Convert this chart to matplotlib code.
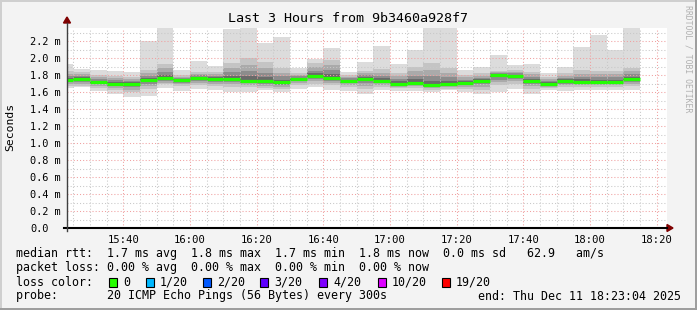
import numpy as np
import matplotlib
matplotlib.use('Agg')
import matplotlib.pyplot as plt
from matplotlib.patches import Rectangle, Polygon
from matplotlib.lines import Line2D
from matplotlib.transforms import Affine2D

W, H = 697, 310

# 5 minute bins, minutes after 15:00 (first bin is cut by the window start)
bin_start = np.arange(20, 195, 5)

# round trip times in ms
med = [1.745, 1.756, 1.718, 1.700, 1.700, 1.741, 1.765, 1.740, 1.765, 1.757,
       1.757, 1.733, 1.733, 1.714, 1.757, 1.790, 1.765, 1.733, 1.757, 1.733,
       1.700, 1.710, 1.680, 1.700, 1.706, 1.733, 1.796, 1.790, 1.730, 1.700,
       1.730, 1.720, 1.720, 1.720, 1.757]
smoke_max = [1.93, 1.874, 1.86, 1.85, 1.835, 2.196, 2.36, 1.86, 1.965, 1.91,
             2.345, 2.36, 2.176, 2.247, 1.88, 1.99, 2.117, 1.835, 1.953, 2.14,
             1.925, 2.09, 2.36, 2.36, 1.86, 1.894, 2.04, 1.92, 1.93, 1.823,
             1.894, 2.133, 2.275, 2.094, 2.36]
smoke_up = [1.85, 1.84, 1.80, 1.79, 1.78, 1.86, 1.93, 1.80, 1.84, 1.84,
            1.94, 2.00, 1.95, 1.88, 1.82, 1.94, 1.98, 1.80, 1.85, 1.87,
            1.83, 1.90, 1.94, 1.88, 1.80, 1.82, 1.85, 1.86, 1.84, 1.78,
            1.82, 1.86, 1.85, 1.85, 1.88]
smoke_lo = [1.67, 1.67, 1.65, 1.62, 1.60, 1.64, 1.69, 1.67, 1.68, 1.67,
            1.66, 1.66, 1.65, 1.64, 1.68, 1.70, 1.68, 1.66, 1.64, 1.66,
            1.65, 1.65, 1.63, 1.64, 1.64, 1.63, 1.68, 1.70, 1.64, 1.65,
            1.66, 1.66, 1.66, 1.66, 1.67]
smoke_min = [1.65, 1.66, 1.61, 1.58, 1.54, 1.55, 1.65, 1.61, 1.64, 1.62,
             1.60, 1.60, 1.62, 1.60, 1.64, 1.656, 1.63, 1.61, 1.58, 1.63,
             1.61, 1.61, 1.60, 1.62, 1.60, 1.58, 1.60, 1.64, 1.58, 1.62,
             1.61, 1.62, 1.62, 1.62, 1.62]

x_ticks = [40, 60, 80, 100, 120, 140, 160, 180, 200]
x_labels = ['15:40', '16:00', '16:20', '16:40', '17:00', '17:20', '17:40', '18:00', '18:20']
y_ticks = [0.0, 0.2, 0.4, 0.6, 0.8, 1.0, 1.2, 1.4, 1.6, 1.8, 2.0, 2.2]
y_labels = ['0.0'] + [f'{v:.1f} m' for v in y_ticks[1:]]

loss_labels = ['0', '1/20', '2/20', '3/20', '4/20', '10/20', '19/20']
loss_colors = ['#26ff00', '#00b8ff', '#0059ff', '#5e00ff', '#7e00ff', '#dd00ff', '#ff0000']

MONO = 'DejaVu Sans Mono'
plt.rcParams['font.family'] = MONO

fig = plt.figure(figsize=(W / 100, H / 100), dpi=100)
fig.patch.set_facecolor('#f3f3f3')
pix = Affine2D().scale(1 / W, -1 / H).translate(0, 1) + fig.transFigure

# plot area: x 67..667, y 27.5..228 px
ax = fig.add_axes([67 / W, (H - 228) / H, 600 / W, 200.5 / H])
ax.set_facecolor('white')
t0 = 23 + 4 / 60
ax.set_xlim(t0, t0 + 180)
ax.set_ylim(0, 2.36)

med = np.array(med)
smax, sup = np.array(smoke_max), np.array(smoke_up)
slo, smin = np.array(smoke_lo), np.array(smoke_min)

# smoke, lightest outside, darker towards the median
ax.bar(bin_start, smax - smin, bottom=smin, width=5, align='edge', color='#dcdcdc', lw=0, zorder=1)
ax.bar(bin_start, sup - slo, bottom=slo, width=5, align='edge', color='#c4c4c4', lw=0, zorder=1)
for f, c in [(0.3, '#aaaaaa'), (0.58, '#8c8c8c'), (0.8, '#6a6a6a')]:
    top = sup - f * (sup - med)
    bot = slo + f * (med - slo)
    ax.bar(bin_start, top - bot, bottom=bot, width=5, align='edge', color=c, lw=0, zorder=1)
ax.hlines(med, bin_start, bin_start + 5, color='#22ff00', lw=2.3, zorder=4)

# grid
ax.set_xticks(x_ticks)
ax.set_xticklabels(x_labels)
ax.set_xticks(np.arange(25, 205, 5), minor=True)
ax.set_yticks(y_ticks)
ax.set_yticklabels(y_labels)
ax.set_yticks(np.arange(0.1, 2.4, 0.2), minor=True)
ax.set_axisbelow(False)
ax.grid(which='minor', color='#c8c8c8', lw=0.75, ls=(0, (1, 2)))
ax.grid(which='major', color='#f0a0a0', lw=0.75, ls=(0, (1, 2)))
ax.tick_params(which='both', length=0)
ax.tick_params(axis='x', labelsize=7.6, pad=5)
ax.tick_params(axis='y', labelsize=7.4, pad=26.6)
for lab in ax.get_yticklabels():
    lab.set_horizontalalignment('left')
for s in ax.spines.values():
    s.set_visible(False)

# axes with arrows
fig.add_artist(Line2D([64, 667], [228, 228], color='black', lw=1.5, transform=pix))
fig.add_artist(Line2D([67, 67], [231, 23], color='#404040', lw=1.0, transform=pix))
fig.add_artist(Polygon([[667, 224.5], [667, 231.5], [673, 228]], closed=True, color='#7f0000', transform=pix))
fig.add_artist(Polygon([[63.5, 23], [70.5, 23], [67, 17]], closed=True, color='#7f0000', transform=pix))

# frame shading
fig.add_artist(Rectangle((0, 0), W, 2, color='#cfcfcf', transform=pix, lw=0))
fig.add_artist(Rectangle((0, 0), 2, H, color='#cfcfcf', transform=pix, lw=0))
fig.add_artist(Rectangle((0, H - 2), W, 2, color='#9e9e9e', transform=pix, lw=0))
fig.add_artist(Rectangle((W - 2, 0), 2, H, color='#9e9e9e', transform=pix, lw=0))

fig.text(348.5, 19, 'Last 3 Hours from 9b3460a928f7', transform=pix, ha='center', va='center', fontsize=9.6)
fig.text(10, 127, 'Seconds', transform=pix, ha='center', va='center', rotation=90, fontsize=8.2)
fig.text(688, 5, 'RRDTOOL / TOBI OETIKER', transform=pix, ha='center', va='top', rotation=270,
         fontsize=5.9, color='#b0b0b0')

fs = 8.4
fig.text(16, 254, 'median rtt:  1.7 ms avg  1.8 ms max  1.7 ms min  1.8 ms now  0.0 ms sd   62.9   am/s',
         transform=pix, va='center', fontsize=fs)
fig.text(16, 268, 'packet loss: 0.00 % avg  0.00 % max  0.00 % min  0.00 % now',
         transform=pix, va='center', fontsize=fs)
fig.text(16, 282, 'loss color:', transform=pix, va='center', fontsize=fs)
box_x = [109, 146, 203, 260, 319, 378, 442]
for bx, lab, col in zip(box_x, loss_labels, loss_colors):
    fig.add_artist(Rectangle((bx, 277.5), 8, 9, facecolor=col, edgecolor='black', lw=0.8, transform=pix))
    fig.text(bx + 14, 282, lab, transform=pix, va='center', fontsize=fs)
fig.text(16, 296, 'probe:       20 ICMP Echo Pings (56 Bytes) every 300s', transform=pix, va='center', fontsize=fs)
fig.text(681, 296, 'end: Thu Dec 11 18:23:04 2025', transform=pix, ha='right', va='center', fontsize=fs)

fig.savefig('out.png', dpi=100, facecolor=fig.get_facecolor())
